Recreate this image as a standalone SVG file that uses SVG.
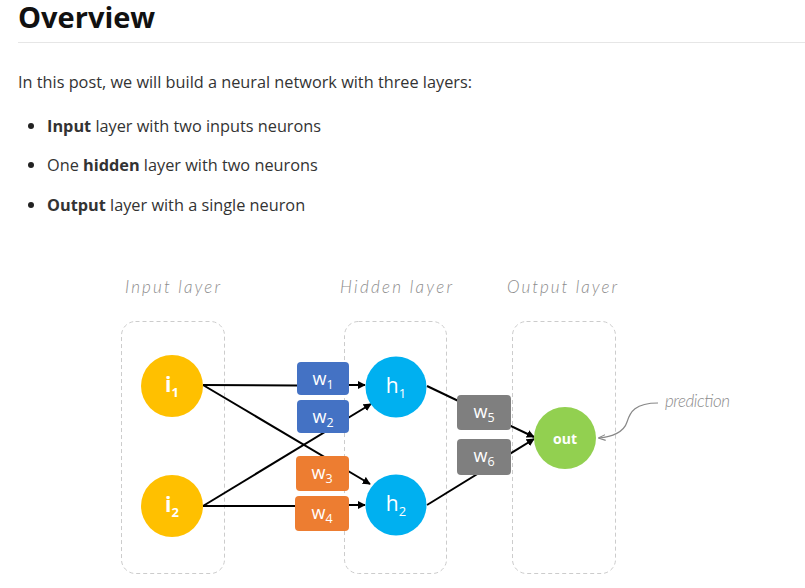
<svg xmlns="http://www.w3.org/2000/svg" width="805" height="588" viewBox="0 0 805 588">
<defs>
<style>
.body{font-family:"Open Sans","Liberation Sans",sans-serif;font-size:16.3px;fill:#333}
.b{font-weight:bold}
.layer{font-family:"Lato","Open Sans",sans-serif;font-style:italic;font-weight:300;font-size:17px;fill:#8c8c8c}
.box{fill:none;stroke:#ccc;stroke-width:1;stroke-dasharray:4 3}
.nt{font-family:"Open Sans","Liberation Sans",sans-serif;fill:#fff;text-anchor:middle}
.edge{stroke:#000;stroke-width:2;fill:none}
</style>
<marker id="ah" viewBox="0 0 10 10" refX="9" refY="5" markerWidth="4" markerHeight="4" orient="auto"><path d="M0,0 L10,5 L0,10 z" fill="#000"/></marker>
<marker id="ag" viewBox="0 0 10 10" refX="9" refY="5" markerWidth="6" markerHeight="6" orient="auto"><path d="M0,1 L10,5 L0,9" fill="none" stroke="#888" stroke-width="1.5"/></marker>
</defs>
<rect width="805" height="588" fill="#fff"/>
<text x="18" y="28" font-family="Open Sans, Liberation Sans, sans-serif" font-weight="bold" font-size="29" fill="#111">Overview</text>
<line x1="18" y1="42.5" x2="805" y2="42.5" stroke="#e6e6e6" stroke-width="1"/>
<text class="body" x="18" y="88">In this post, we will build a neural network with three layers:</text>
<circle cx="31" cy="126" r="3" fill="#222"/>
<circle cx="31" cy="165" r="3" fill="#222"/>
<circle cx="31" cy="205" r="3" fill="#222"/>
<text class="body" x="47" y="132"><tspan class="b">Input</tspan> layer with two inputs neurons</text>
<text class="body" x="47" y="171">One <tspan class="b">hidden</tspan> layer with two neurons</text>
<text class="body" x="47" y="211"><tspan class="b">Output</tspan> layer with a single neuron</text>

<text class="layer" x="125" y="293" textLength="95" lengthAdjust="spacing">Input layer</text>
<text class="layer" x="340" y="293" textLength="112" lengthAdjust="spacing">Hidden layer</text>
<text class="layer" x="507" y="293" textLength="110" lengthAdjust="spacing">Output layer</text>
<rect class="box" x="121.5" y="321.5" width="103" height="252" rx="14"/>
<rect class="box" x="344.5" y="321.5" width="102" height="252" rx="14"/>
<rect class="box" x="512.5" y="321.5" width="103" height="252" rx="14"/>

<g id="connectors">
<line class="edge" x1="203" y1="385" x2="297" y2="385.5"/>
<line class="edge" x1="203" y1="385" x2="370" y2="484" marker-end="url(#ah)"/>
<line class="edge" x1="203" y1="506" x2="371" y2="404" marker-end="url(#ah)"/>
<line class="edge" x1="203" y1="506" x2="296" y2="506"/>
<line class="edge" x1="349" y1="385" x2="365" y2="385" marker-end="url(#ah)"/>
<line class="edge" x1="349" y1="505" x2="365" y2="505" marker-end="url(#ah)"/>
<line class="edge" x1="427" y1="386" x2="534" y2="437" marker-end="url(#ah)"/>
<line class="edge" x1="427" y1="505" x2="534" y2="439" marker-end="url(#ah)"/>
<path d="M658,403 C635,403 630,412 627,422 C624,432 612,437 599,438" fill="none" stroke="#888" stroke-width="1.2" marker-end="url(#ag)"/>
</g>

<g id="w1"><rect x="297" y="362" width="52" height="33" rx="4" fill="#4472C4"/><text class="nt" x="323" y="385" font-size="18">w<tspan font-size="12.5" dy="4">1</tspan></text></g>
<g id="w2"><rect x="297" y="400" width="52" height="33" rx="4" fill="#4472C4"/><text class="nt" x="323" y="423" font-size="18">w<tspan font-size="12.5" dy="4">2</tspan></text></g>
<g id="w3"><rect x="296" y="456" width="53" height="35" rx="4" fill="#ED7D31"/><text class="nt" x="322" y="479" font-size="18">w<tspan font-size="12.5" dy="4">3</tspan></text></g>
<g id="w4"><rect x="295" y="496" width="54" height="35" rx="4" fill="#ED7D31"/><text class="nt" x="322" y="519" font-size="18">w<tspan font-size="12.5" dy="4">4</tspan></text></g>
<g id="w5"><rect x="457" y="395" width="54" height="35" rx="4" fill="#7F7F7F"/><text class="nt" x="484" y="418" font-size="18">w<tspan font-size="12.5" dy="4">5</tspan></text></g>
<g id="w6"><rect x="457" y="439" width="54" height="36" rx="4" fill="#7F7F7F"/><text class="nt" x="484" y="462" font-size="18">w<tspan font-size="12.5" dy="4">6</tspan></text></g>

<g id="i1"><circle cx="172" cy="386" r="31" fill="#FFC000"/><text class="nt" x="172" y="392" font-size="21" font-weight="bold">i<tspan font-size="13" dy="5">1</tspan></text></g>
<g id="i2"><circle cx="172" cy="506" r="31" fill="#FFC000"/><text class="nt" x="172" y="512" font-size="21" font-weight="bold">i<tspan font-size="13" dy="5">2</tspan></text></g>
<g id="h1"><circle cx="396" cy="387" r="30.5" fill="#00B0F0"/><text class="nt" x="396" y="393" font-size="21">h<tspan font-size="13" dy="5">1</tspan></text></g>
<g id="h2"><circle cx="396" cy="505" r="30.5" fill="#00B0F0"/><text class="nt" x="396" y="511" font-size="21">h<tspan font-size="13" dy="5">2</tspan></text></g>
<g id="out"><circle cx="565" cy="438" r="31" fill="#92D050"/><text class="nt" x="565" y="444" font-size="14" font-weight="bold">out</text></g>
<text class="layer" x="665" y="407" font-size="13" textLength="65" lengthAdjust="spacing">prediction</text>
</svg>
